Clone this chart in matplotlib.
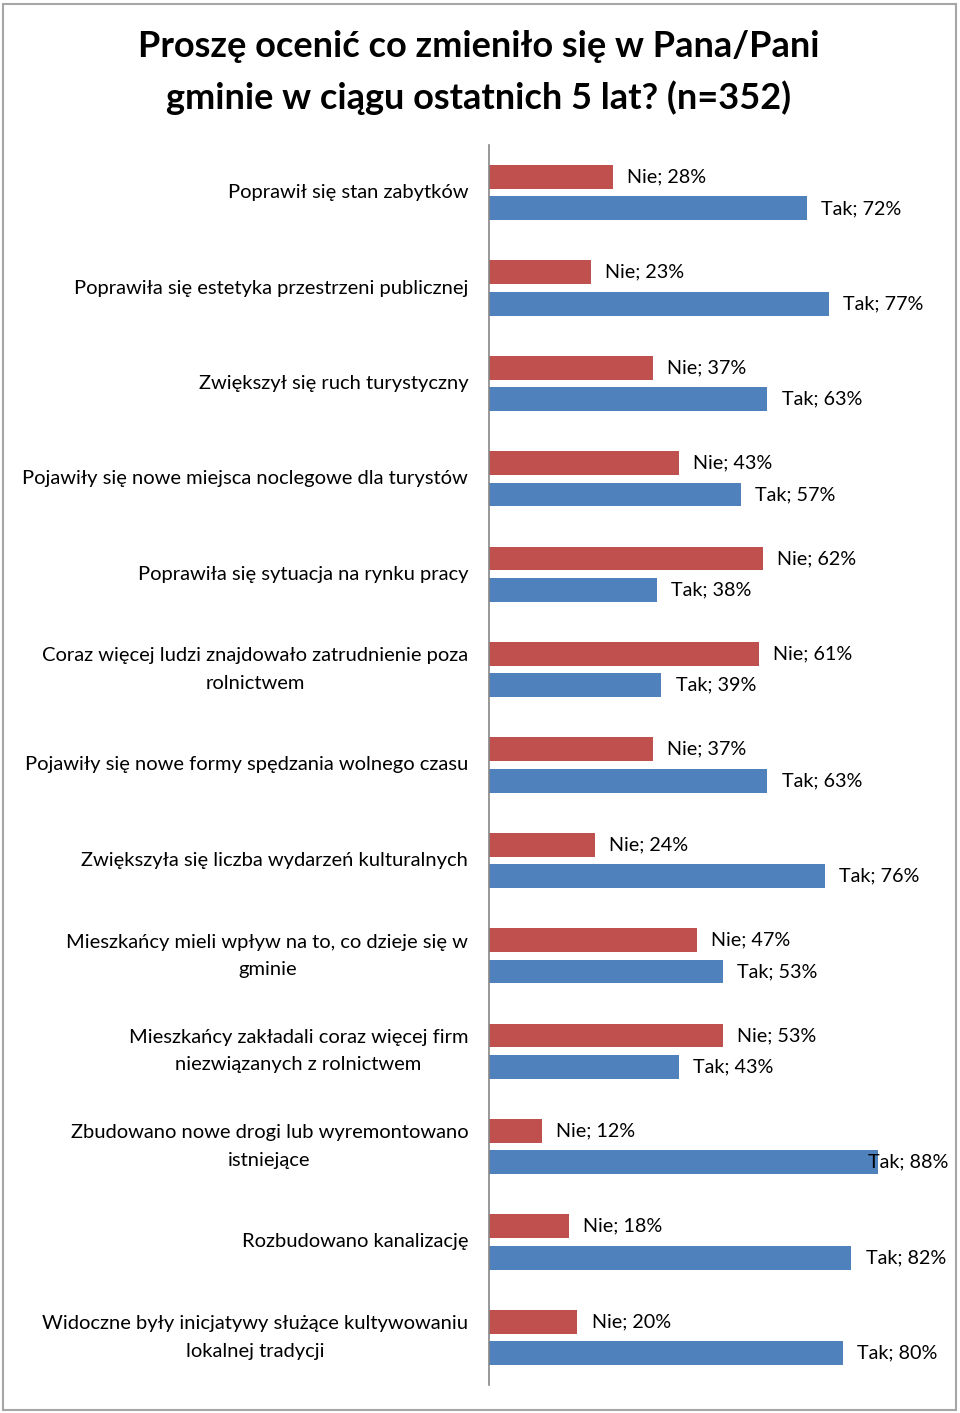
import matplotlib.pyplot as plt
import numpy as np
from matplotlib.patches import Rectangle

plt.rcParams['font.family'] = ['Lato', 'DejaVu Sans']

# data
categories = [
    "Poprawił się stan zabytków",
    "Poprawiła się estetyka przestrzeni publicznej",
    "Zwiększył się ruch turystyczny",
    "Pojawiły się nowe miejsca noclegowe dla turystów",
    "Poprawiła się sytuacja na rynku pracy",
    "Coraz więcej ludzi znajdowało zatrudnienie poza\nrolnictwem",
    "Pojawiły się nowe formy spędzania wolnego czasu",
    "Zwiększyła się liczba wydarzeń kulturalnych",
    "Mieszkańcy mieli wpływ na to, co dzieje się w\ngminie",
    "Mieszkańcy zakładali coraz więcej firm\nniezwiązanych z rolnictwem",
    "Zbudowano nowe drogi lub wyremontowano\nistniejące",
    "Rozbudowano kanalizację",
    "Widoczne były inicjatywy służące kultywowaniu\nlokalnej tradycji",
]
nie = [28, 23, 37, 43, 62, 61, 37, 24, 47, 53, 12, 18, 20]
tak = [72, 77, 63, 57, 38, 39, 63, 76, 53, 43, 88, 82, 80]

title = "Proszę ocenić co zmieniło się w Pana/Pani\ngminie w ciągu ostatnich 5 lat? (n=352)"

red = "#C0504D"
blue = "#4F81BD"

fig = plt.figure(figsize=(9.6, 14.13), dpi=100)
fig.patch.set_facecolor("white")

# outer frame
fig.patches.append(Rectangle((0.0035, 0.0021), 0.9925, 0.9951, transform=fig.transFigure,
                             fill=False, edgecolor="#A6A6A6", linewidth=1.5))

fig.text(0.499, 0.9485, title, ha="center", va="center", fontsize=26,
         fontweight="bold", linespacing=1.6)

ax = fig.add_axes([0.5094, 0.0198, 0.4604, 0.8776])
y = np.arange(len(categories))
h = 0.25
off = 0.165

ax.barh(y - off, nie, height=h, color=red)
ax.barh(y + off, tak, height=h, color=blue)

ax.set_xlim(0, 100)
ax.set_ylim(len(categories) - 0.5, -0.5)

for i in range(len(categories)):
    for val, yy, name in [(nie[i], y[i] - off, "Nie"), (tak[i], y[i] + off, "Tak")]:
        txt = f"{name}; {val}%"
        if val > 85:
            ax.text(103.9, yy, txt, ha="right", va="center", fontsize=14.2, clip_on=False)
        else:
            ax.text(val + 3.2, yy, txt, ha="left", va="center", fontsize=14.2, clip_on=False)

ax.set_yticks(y)
ax.set_yticklabels(categories, fontsize=14.5, multialignment="center",
                   linespacing=1.75, va="center")
ax.tick_params(axis="y", length=0, pad=15)
ax.set_xticks([])

for s in ["top", "right", "bottom"]:
    ax.spines[s].set_visible(False)
ax.spines["left"].set_color("#868686")
ax.spines["left"].set_linewidth(1.2)

fig.savefig("out.png", dpi=100)
